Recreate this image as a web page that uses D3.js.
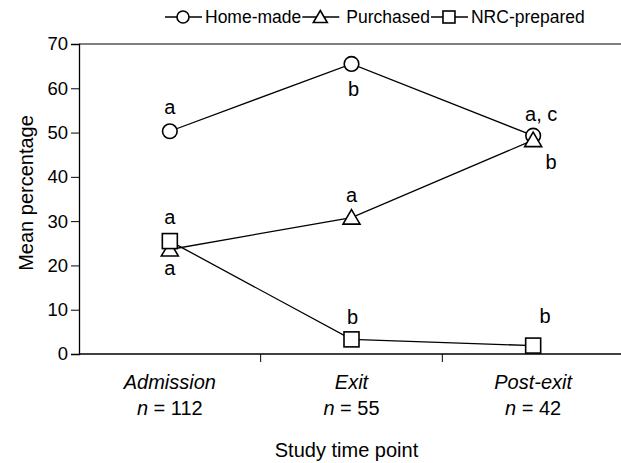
<!DOCTYPE html>
<html>
<head>
  <meta charset="utf-8">
  <script src="https://d3js.org/d3.v7.min.js"></script>
  <style>
    body { margin: 0; background: #fff; }
    svg text { font-family: "Liberation Sans", Arial, sans-serif; fill: #000; }
  </style>
</head>
<body>
<div id="chart"></div>
<script>
// dados
var pontos = ["Admission", "Exit", "Post-exit"];
var tamanhos = ["112", "55", "42"];
var caseira = [50.3, 65.5, 49.3];
var comprada = [23.6, 30.8, 48.3];
var nrc = [25.5, 3.3, 1.9];
var letrasCaseira = ["a", "b", "a, c"];
var letrasComprada = ["a", "a", "b"];
var letrasNrc = ["a", "b", "b"];
var yTicks = [0, 10, 20, 30, 40, 50, 60, 70];

var series = [
  {nome: "Home-made", valores: caseira, letras: letrasCaseira, simbolo: "circulo",
   // deslocamento das letras (dx, dy) em px para cada ponto
   pos: [[0, -24], [2, 25], [8, -22]]},
  {nome: "Purchased", valores: comprada, letras: letrasComprada, simbolo: "triangulo",
   pos: [[0, 19], [0, -23], [18, 22]]},
  {nome: "NRC-prepared", valores: nrc, letras: letrasNrc, simbolo: "quadrado",
   pos: [[0, -24], [1, -22], [12, -30]]}
];

var largura = 621, altura = 463;
var margin = {top: 44, right: -3, bottom: 109, left: 79};
var larguraVis = largura - margin.left - margin.right,
    alturaVis = altura - margin.top - margin.bottom;

var svg = d3.select('#chart').append('svg')
    .attr('width', largura).attr('height', altura);
var g = svg.append('g')
    .attr('transform', 'translate(' + margin.left + ',' + margin.top + ')');

var x = d3.scaleBand().domain(pontos).range([0, larguraVis]);
var y = d3.scaleLinear().domain([0, 70]).range([alturaVis, 0]);
var cx = function (i) { return x(pontos[i]) + x.bandwidth() / 2; };

// moldura superior
g.append('line').attr('x1', 0).attr('x2', larguraVis).attr('y1', 0).attr('y2', 0)
  .attr('stroke', '#000').attr('stroke-width', 1.2);

// eixo y
var eixoY = g.append('g').call(d3.axisLeft(y).tickValues(yTicks).tickSize(8).tickPadding(3));
eixoY.select('.domain').attr('stroke-width', 1.3);
eixoY.selectAll('text').style('font-size', '18.5px');

// eixo x (so as divisorias internas)
var eixoX = g.append('g').attr('transform', 'translate(0,' + alturaVis + ')');
eixoX.append('line').attr('x1', 0).attr('x2', larguraVis).attr('stroke', '#000').attr('stroke-width', 1.3);
eixoX.selectAll('.div').data(pontos.slice(1)).enter().append('line')
  .attr('x1', d => x(d)).attr('x2', d => x(d)).attr('y1', 0).attr('y2', 8)
  .attr('stroke', '#000');
eixoX.selectAll('.nome').data(pontos).enter().append('text')
  .attr('x', d => x(d) + x.bandwidth() / 2).attr('y', 35)
  .attr('text-anchor', 'middle').style('font-size', '20px').style('font-style', 'italic')
  .text(d => d);
var nTxt = eixoX.selectAll('.n').data(tamanhos).enter().append('text')
  .attr('x', (d, i) => cx(i)).attr('y', 61)
  .attr('text-anchor', 'middle').style('font-size', '20px');
nTxt.append('tspan').style('font-style', 'italic').text('n');
nTxt.append('tspan').text(d => ' = ' + d);

svg.append('text').attr('x', margin.left + larguraVis / 2 - 5).attr('y', 457)
  .attr('text-anchor', 'middle').style('font-size', '20px').text('Study time point');
svg.append('text')
  .attr('transform', 'translate(33,193) rotate(-90)')
  .attr('text-anchor', 'middle').style('font-size', '20px').text('Mean percentage');

// simbolos
function desenhaSimbolo(sel, tipo) {
  if (tipo === 'circulo') {
    sel.append('circle').attr('r', 7.3);
  } else if (tipo === 'triangulo') {
    sel.append('path').attr('d', 'M0,-8L8.5,6.5L-8.5,6.5Z');
  } else {
    sel.append('rect').attr('x', -7.5).attr('y', -7.5).attr('width', 15).attr('height', 15);
  }
  sel.selectAll('*').attr('fill', '#fff').attr('stroke', '#000').attr('stroke-width', 1.6);
}

var linha = d3.line().x((d, i) => cx(i)).y(d => y(d));
series.forEach(function (s) {
  g.append('path').attr('d', linha(s.valores))
    .attr('fill', 'none').attr('stroke', '#000').attr('stroke-width', 1.3);
});
series.forEach(function (s) {
  s.valores.forEach(function (v, i) {
    var m = g.append('g').attr('transform', 'translate(' + cx(i) + ',' + y(v) + ')');
    desenhaSimbolo(m, s.simbolo);
  });
});
series.forEach(function (s) {
  s.valores.forEach(function (v, i) {
    g.append('text')
      .attr('x', cx(i) + s.pos[i][0]).attr('y', y(v) + s.pos[i][1] + 7)
      .attr('text-anchor', 'middle').style('font-size', '20px')
      .text(s.letras[i]);
  });
});

// legenda
var lx = 165, ly = 17;
var leg = svg.append('g');
series.forEach(function (s, k) {
  leg.append('line').attr('x1', lx).attr('x2', lx + 37).attr('y1', ly).attr('y2', ly)
    .attr('stroke', '#000').attr('stroke-width', 1.3);
  var m = leg.append('g').attr('transform', 'translate(' + (lx + 18) + ',' + ly + ')');
  desenhaSimbolo(m, s.simbolo);
  m.selectAll('circle').attr('r', 6);
  m.selectAll('path').attr('d', 'M0,-6.5L7,5.5L-7,5.5Z');
  m.selectAll('rect').attr('x', -6).attr('y', -6).attr('width', 12).attr('height', 12);
  var gap = k === 1 ? 44 : 40;
  var t = leg.append('text').attr('x', lx + gap).attr('y', ly + 6)
    .style('font-size', '17.5px').text(s.nome);
  lx += gap + t.node().getComputedTextLength() + 1;
});
</script>
</body>
</html>
